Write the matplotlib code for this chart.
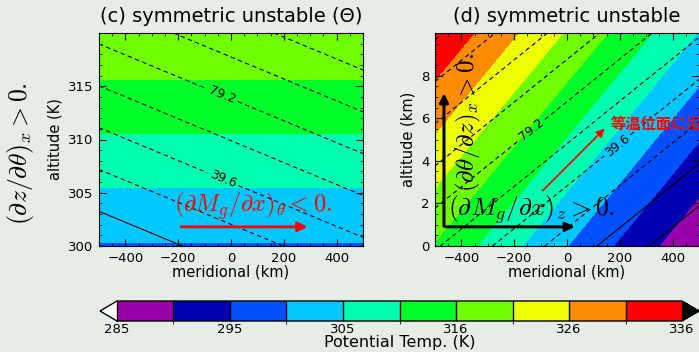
import numpy as np
import matplotlib.pyplot as plt
from matplotlib.colors import ListedColormap, BoundaryNorm
from matplotlib.ticker import MultipleLocator

plt.rcParams['font.family'] = ['DejaVu Sans', 'Noto Sans CJK JP']
plt.rcParams['mathtext.fontset'] = 'cm'

BG = '#e6ece6'

# colour levels of potential temperature (K)
theta_levels = [285, 290.1, 295.2, 300.3, 305.4, 310.5, 315.6, 320.7, 325.8, 330.9, 336]
theta_colors = ['#9a00aa', '#0000b4', '#0050ff', '#00c8ff', '#00ffb0',
                '#00ff28', '#6eff00', '#eeff00', '#ff8c00', '#ff0000']
cbar_ticks = [285, 295.2, 305.4, 315.6, 325.8, 336]
cbar_ticklabels = ['285', '295', '305', '316', '326', '336']

# absolute momentum contours
mg_levels = [-39.6, -19.8, 0, 19.8, 59.4, 99.0, 118.8, 138.6, 158.4]
mg_labelled = [39.6, 79.2]

# (c) theta coordinate: corner values
x_km = [-500, 500]
theta_axis = [300, 320]
theta_c = [[300, 300], [320, 320]]
mg_c = [[-16.4, 35.5], [84.4, 136.3]]

# (d) height coordinate
z_km = [0, 10]
theta_d = [[315.2, 285.6], [335.3, 305.2]]
mg_d = [[61.4, -38.6], [161.4, 61.4]]

cmap = ListedColormap(theta_colors)
cmap.set_under('white')
cmap.set_over('black')
norm = BoundaryNorm(theta_levels, cmap.N)

fig = plt.figure(figsize=(6.99, 3.52), dpi=100, facecolor=BG)
ax_c = fig.add_axes([99 / 699, 1 - 246 / 352, 264 / 699, 213 / 352])
ax_d = fig.add_axes([435 / 699, 1 - 246 / 352, 264 / 699, 213 / 352])
cax = fig.add_axes([100 / 699, 1 - 321 / 352, 599 / 699, 20 / 352])


def draw_panel(ax, yv, th, mg, title, label_pos):
    cf = ax.contourf(x_km, yv, th, levels=theta_levels, cmap=cmap, norm=norm, extend='both')
    styles = ['solid' if v <= 0 else (0, (4, 3)) for v in mg_levels]
    ax.contour(x_km, yv, mg, levels=mg_levels, colors='black',
               linewidths=0.8, linestyles=styles)
    cs = ax.contour(x_km, yv, mg, levels=mg_labelled, colors='black',
                    linewidths=0.8, linestyles=[(0, (4, 3))])
    ax.clabel(cs, fmt='%.1f', fontsize=9, inline=True, inline_spacing=3,
              manual=label_pos)
    ax.set_title(title, fontsize=14, pad=8)
    ax.set_xlabel('meridional (km)', fontsize=10.5, labelpad=0)
    ax.set_xlim(-500, 500)
    ax.set_xticks([-400, -200, 0, 200, 400])
    ax.xaxis.set_minor_locator(MultipleLocator(50))
    ax.tick_params(which='both', direction='in', top=True, right=True, labelsize=9.5, pad=4)
    ax.tick_params(which='major', length=5)
    ax.tick_params(which='minor', length=2.5)
    return cf


cf = draw_panel(ax_c, theta_axis, theta_c, mg_c, '(c) symmetric unstable (\u0398)',
                [(-34, 306.1), (-34, 314.1)])
ax_c.set_ylim(300, 320)
ax_c.set_yticks([300, 305, 310, 315])
ax_c.yaxis.set_minor_locator(MultipleLocator(1))
ax_c.set_ylabel('altitude (K)', fontsize=10.5, labelpad=4)

draw_panel(ax_d, z_km, theta_d, mg_d, '(d) symmetric unstable',
           [(189, 4.74), (-133, 5.45)])
ax_d.set_ylim(0, 10)
ax_d.set_yticks([0, 2, 4, 6, 8])
ax_d.yaxis.set_minor_locator(MultipleLocator(0.5))
ax_d.set_ylabel('altitude (km)', fontsize=10.5, labelpad=4)

# annotations, panel (c)
ax_c.annotate('', xy=(300, 301.8), xytext=(-200, 301.8),
              arrowprops=dict(arrowstyle='-|>', color='red', lw=2, mutation_scale=14))
ax_c.text(-215, 302.3, r'$(\partial M_g/\partial x)_\theta < 0.$', color='red',
          fontsize=17.5, ha='left', va='bottom')
fig.text(20 / 699, 1 - 154 / 352, r'$(\partial z/\partial \theta)_x > 0.$', rotation=90,
         fontsize=18.5, ha='center', va='center')

# annotations, panel (d)
arrow_k = dict(arrowstyle='-|>', color='black', lw=2.2, mutation_scale=13)
ax_d.annotate('', xy=(40, 0.9), xytext=(-468, 0.9), arrowprops=arrow_k)
ax_d.annotate('', xy=(-466, 7.3), xytext=(-466, 0.8), arrowprops=arrow_k)
ax_d.text(-452, 0.95, r'$(\partial M_g/\partial x)_z > 0.$', fontsize=18.5,
          ha='left', va='bottom')
ax_d.text(-427, 5.8, r'$(\partial \theta/\partial z)_x > 0.$', fontsize=18,
          rotation=90, ha='left', va='center')
ax_d.annotate('', xy=(150, 5.6), xytext=(-100, 2.5),
              arrowprops=dict(arrowstyle='-|>', color='red', lw=1.2, mutation_scale=12))
# runs past the right edge of the figure, as in the original
ax_d.text(165, 5.75, '等温位面に沿って', color='red', fontsize=11, fontweight='bold',
          family=['Noto Sans CJK JP'], ha='left', va='center', clip_on=False)

# colour bar
cb = fig.colorbar(cf, cax=cax, orientation='horizontal', ticks=cbar_ticks,
                  drawedges=True, extendfrac=0.03)
cb.set_ticklabels(cbar_ticklabels)
cb.ax.tick_params(length=0, labelsize=9.5, pad=1.5)
cb.outline.set_linewidth(1)
cb.dividers.set_linewidth(1)
cb.set_label('Potential Temp. (K)', fontsize=11.5, labelpad=-1)

fig.savefig('out.png', dpi=100, facecolor=BG)
